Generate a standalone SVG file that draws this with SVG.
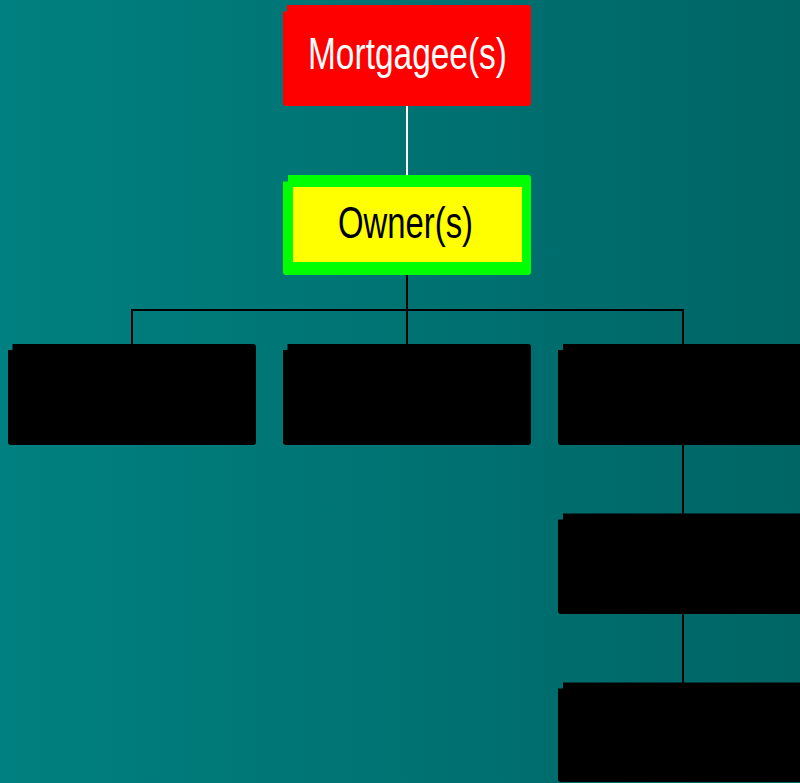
<svg xmlns="http://www.w3.org/2000/svg" width="800" height="783" viewBox="0 0 800 783">
  <defs>
    <linearGradient id="bg" x1="0" y1="0" x2="1" y2="0">
      <stop offset="0" stop-color="#008080"/>
      <stop offset="1" stop-color="#006565"/>
    </linearGradient>
    <style>
      .lbl { font-family: "Liberation Sans", Arial, sans-serif; font-size: 44px; }
      .conn { stroke: #000; stroke-width: 2; fill: none; }
      .box { fill: #000; }
    </style>
  </defs>
  <rect x="0" y="0" width="800" height="783" fill="url(#bg)"/>

  <g id="connectors">
    <line x1="407" y1="106" x2="407" y2="176" stroke="#ffffff" stroke-width="2"/>
    <polyline class="conn" points="407,275 407,310"/>
    <polyline class="conn" points="132,345 132,310 683,310 683,345"/>
    <line class="conn" x1="407" y1="310" x2="407" y2="345"/>
    <line class="conn" x1="683" y1="445" x2="683" y2="514"/>
    <line class="conn" x1="683" y1="614" x2="683" y2="683"/>
  </g>

  <g id="mortgagee">
    <path fill="#ff0000" d="M287,5 H528 Q531,5 531,8 V103 Q531,106 528,106 H286 Q283,106 283,103 V11.5 H287 Z"/>
    <text class="lbl" x="407.5" y="69" fill="#ffffff" text-anchor="middle" textLength="199" lengthAdjust="spacingAndGlyphs">Mortgagee(s)</text>
  </g>

  <g id="owner">
    <path fill="#00ff00" d="M288,175 H528 Q531,175 531,178 V272 Q531,275 528,275 H286 Q283,275 283,272 V181.5 H288 Z"/>
    <rect x="293" y="187" width="229" height="75" fill="#ffff00"/>
    <text class="lbl" x="405.5" y="238" fill="#000000" text-anchor="middle" textLength="135" lengthAdjust="spacingAndGlyphs">Owner(s)</text>
  </g>

  <g id="box1">
    <path class="box" d="M12.5,344 H253 Q256,344 256,347 V442 Q256,445 253,445 H11 Q8,445 8,442 V350 H12.5 Z"/>
  </g>
  <g id="box2">
    <path class="box" d="M287.5,344 H528 Q531,344 531,347 V442 Q531,445 528,445 H286 Q283,445 283,442 V350 H287.5 Z"/>
  </g>
  <g id="box3">
    <path class="box" d="M563,344 H803 Q806,344 806,347 V442 Q806,445 803,445 H561 Q558,445 558,442 V350 H563 Z"/>
  </g>
  <g id="box4">
    <path class="box" d="M563,513.5 H803 Q806,513.5 806,516.5 V611 Q806,614 803,614 H561 Q558,614 558,611 V519.5 H563 Z"/>
  </g>
  <g id="box5">
    <path class="box" d="M563,682.5 H803 Q806,682.5 806,685.5 V779 Q806,782 803,782 H561 Q558,782 558,779 V688.5 H563 Z"/>
  </g>
</svg>
